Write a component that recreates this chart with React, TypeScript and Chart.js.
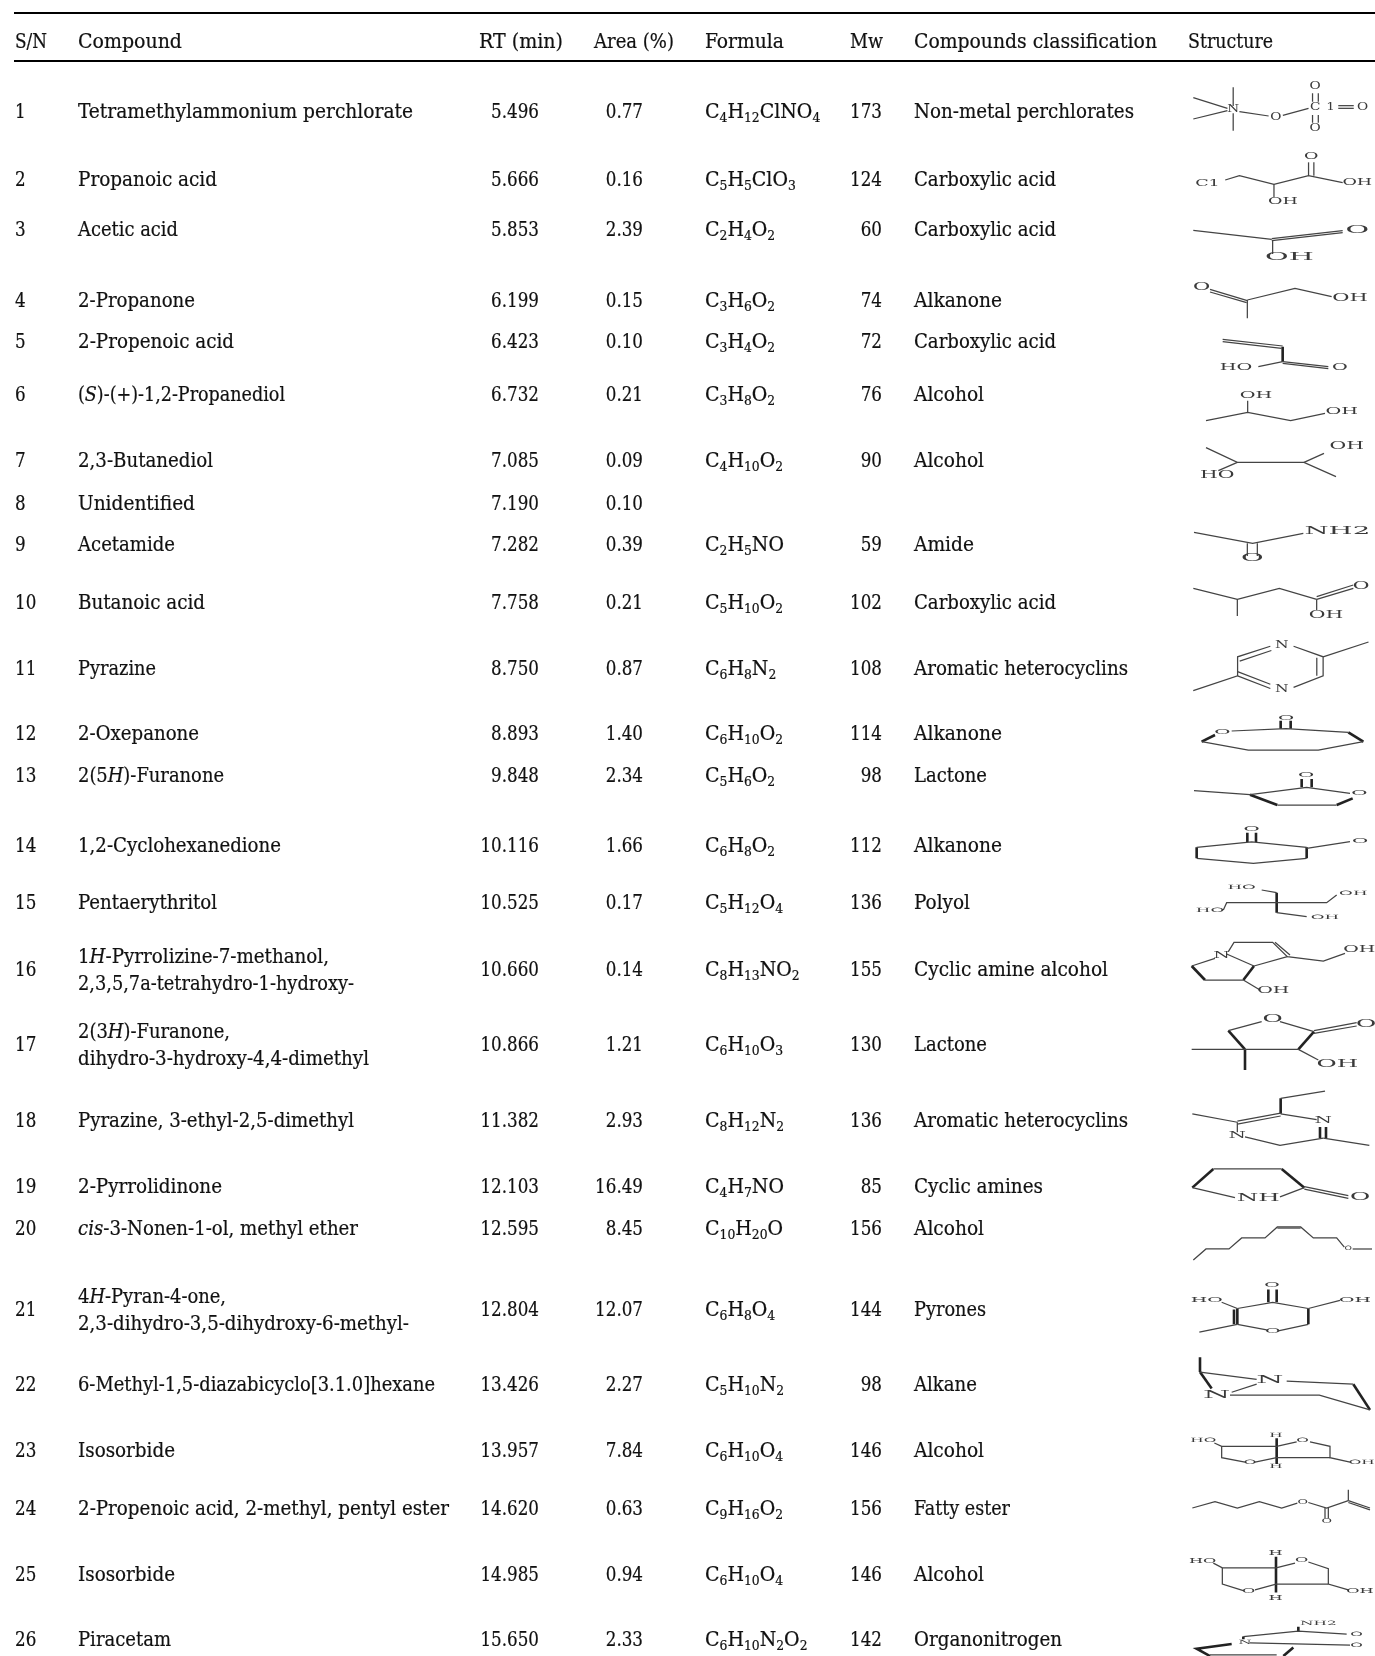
import React, { useEffect, useRef } from "react";
import { Chart, registerables } from "chart.js";
Chart.register(...registerables);

const headers = ["S/N", "Compound", "RT (min)", "Area (%)", "Formula", "Mw", "Compounds classification", "Structure"];
const serials = ["1","2","3","4","5","6","7","8","9","10","11","12","13","14","15","16","17","18","19","20","21","22","23","24","25","26"];
const compounds = [
  ["Tetramethylammonium perchlorate"],["Propanoic acid"],["Acetic acid"],["2-Propanone"],["2-Propenoic acid"],
  ["(*S*)-(+)-1,2-Propanediol"],["2,3-Butanediol"],["Unidentified"],["Acetamide"],["Butanoic acid"],["Pyrazine"],
  ["2-Oxepanone"],["2(5*H*)-Furanone"],["1,2-Cyclohexanedione"],["Pentaerythritol"],
  ["1*H*-Pyrrolizine-7-methanol,","2,3,5,7a-tetrahydro-1-hydroxy-"],
  ["2(3*H*)-Furanone,","dihydro-3-hydroxy-4,4-dimethyl"],
  ["Pyrazine, 3-ethyl-2,5-dimethyl"],["2-Pyrrolidinone"],["*cis*-3-Nonen-1-ol, methyl ether"],
  ["4*H*-Pyran-4-one,","2,3-dihydro-3,5-dihydroxy-6-methyl-"],
  ["6-Methyl-1,5-diazabicyclo[3.1.0]hexane"],["Isosorbide"],["2-Propenoic acid, 2-methyl, pentyl ester"],["Isosorbide"],["Piracetam"],
];
const retention = ["5.496","5.666","5.853","6.199","6.423","6.732","7.085","7.190","7.282","7.758","8.750","8.893","9.848","10.116","10.525","10.660","10.866","11.382","12.103","12.595","12.804","13.426","13.957","14.620","14.985","15.650"];
const areas = ["0.77","0.16","2.39","0.15","0.10","0.21","0.09","0.10","0.39","0.21","0.87","1.40","2.34","1.66","0.17","0.14","1.21","2.93","16.49","8.45","12.07","2.27","7.84","0.63","0.94","2.33"];
const formulas = ["C4H12ClNO4","C5H5ClO3","C2H4O2","C3H6O2","C3H4O2","C3H8O2","C4H10O2","","C2H5NO","C5H10O2","C6H8N2","C6H10O2","C5H6O2","C6H8O2","C5H12O4","C8H13NO2","C6H10O3","C8H12N2","C4H7NO","C10H20O","C6H8O4","C5H10N2","C6H10O4","C9H16O2","C6H10O4","C6H10N2O2"];
const weights = ["173","124","60","74","72","76","90","","59","102","108","114","98","112","136","155","130","136","85","156","144","98","146","156","146","142"];
const classes = ["Non-metal perchlorates","Carboxylic acid","Carboxylic acid","Alkanone","Carboxylic acid","Alcohol","Alcohol","","Amide","Carboxylic acid","Aromatic heterocyclins","Alkanone","Lactone","Alkanone","Polyol","Cyclic amine alcohol","Lactone","Aromatic heterocyclins","Cyclic amines","Alcohol","Pyrones","Alkane","Alcohol","Fatty ester","Alcohol","Organonitrogen"];

// layout on the sheet's axes
const rowBaselines = [118,186,236,307,348,401,467,510,551,609,675,740,782,852,909,976,1051,1127,1193,1235,1316,1391,1457,1515,1581,1646];
const compoundEnds = [[413],[217],[178],[195],[234],[285],[213],[195],[175],[205],[156],[199],[224],[281],[217],[329,354],[230,369],[354],[222],[358],[226,409],[435],[175],[449],[175],[171]];
const classEnds = [1134,1056,1056,1002,1056,984,984,0,974,1056,1128,1002,987,1002,970,1108,987,1128,1043,984,986,977,984,1010,984,1062];
const colLeft = { sn: 15, compound: 78, formula: 705, cls: 914 };
const colRight = { rt: 539, area: 643, mw: 882 };
const headerX = [15, 78, 479, 594, 705, 850, 914, 1188];
const headerEnds = [47, 182, 563, 674, 784, 883, 1157, 1273];
const headerBaseline = 48;
const ruleYs = [13, 61];
const FONT = '"DejaVu Serif Condensed"';
const SIZE = 20;
const SUB = 13;
const DIGIT_SQUEEZE = 0.93;
const FORMULA_WIDEN = 1.055;

type P = number[];
type Mol = { crop: number[]; size: number; wide: number; thin: P[]; thick?: P[]; labels: [string, number, number][] };
const A = [680, 0, 2.256, 3], B = [1160, 280, 3, 3], C = [1160, 680, 3, 3], D = [1160, 1080, 3, 2.722], R = [0, 0, 0.947, 0.947];
const molecules: Mol[] = [
  { crop: A, size: 13, wide: 1.05, thin: [[1158,293,1235,325],[1158,357,1235,332],[1248,262,1248,318],[1248,340,1248,392],[1262,335,1328,348],[1360,346,1418,325],[1485,317,1520,317],[1485,325,1520,325],[1427,280,1427,305],[1440,280,1440,305],[1427,345,1427,368],[1440,345,1440,368]],
    labels: [["N",1248,328],["O",1344,351],["C",1433,320],["1",1468,320],["O",1540,320],["O",1433,257],["O",1433,383]] },
  { crop: A, size: 11, wide: 1.6, thin: [[1230,540,1262,527,1340,553,1418,527,1495,548],[1340,553,1340,592],[1418,527,1418,487],[1430,527,1430,487]],
    labels: [["C1",1190,552],["OH",1528,547],["OH",1360,606],["O",1424,469]] },
  { crop: A, size: 12, wide: 2.4, thin: [[1158,691,1335,718],[1335,716,1495,692],[1335,722,1495,698],[1337,720,1337,762]],
    labels: [["OH",1375,773],["O",1528,691]] },
  { crop: B, size: 14, wide: 1.5, thin: [[150,28,262,62],[150,36,260,68],[262,60,405,25,515,50],[262,60,262,115]],
    labels: [["O",125,22],["OH",570,53]] },
  { crop: B, size: 11, wide: 1.75, thin: [[188,178,368,198],[188,185,365,205],[295,260,368,245],[368,245,505,260],[368,250,505,266]], thick: [[368,200,368,245]],
    labels: [["HO",228,264],["O",540,264]] },
  { crop: B, size: 11, wide: 1.75, thin: [[263,362,263,397],[138,422,263,397,392,422,495,400]],
    labels: [["OH",288,346],["OH",545,395]] },
  { crop: B, size: 12, wide: 1.7, thin: [[138,503,232,547,432,547,528,590],[432,547,492,520],[232,547,175,572]],
    labels: [["OH",560,500],["HO",172,587]] },
  { crop: B, size: 12, wide: 2.3, thin: [[102,757,278,790,430,760],[262,790,262,828],[292,790,292,828]],
    labels: [["NH2",532,755],["O",277,836]] },
  { crop: B, size: 12, wide: 1.7, thin: [[100,925,232,958,358,925,470,958],[232,958,232,1008],[470,950,580,915],[470,958,580,925],[470,958,470,990]],
    labels: [["O",603,920],["OH",498,1005]] },
  { crop: R, size: 13, wide: 1.2, thin: [[1130,654,1172,640,1172,622,1203,612],[1174,626,1204,616],[1225,612,1253,622,1253,640,1225,651],[1203,652,1172,640],[1172,636,1203,648],[1253,622,1296,608],[1247,623,1247,640]],
    labels: [["N",1214,611],["N",1214,653]] },
  { crop: C, size: 9, wide: 2.2, thin: [[215,153,378,146,565,157],[610,185,475,210,265,210,125,185]], thick: [[362,122,362,146],[392,122,392,146],[565,157,610,185],[125,185,165,165]],
    labels: [["O",378,115],["O",187,155]] },
  { crop: C, size: 9, wide: 2.2, thin: [[102,332,270,344,440,322,570,340],[352,375,530,375]], thick: [[425,297,425,322],[455,297,455,322],[270,344,352,375],[530,375,578,355]],
    labels: [["O",438,285],["O",598,340]] },
  { crop: C, size: 9, wide: 2.2, thin: [[110,502,275,486,440,502],[440,535,280,550,110,535],[440,505,570,485]], thick: [[262,458,262,486],[288,458,288,486],[110,502,110,535],[440,502,440,535]],
    labels: [["O",275,448],["O",600,484]] },
  { crop: C, size: 7, wide: 2.4, thin: [[305,630,350,638],[350,698,440,710],[190,690,200,668,500,668,530,645]], thick: [[350,638,350,698]],
    labels: [["HO",245,621],["OH",495,712],["HO",150,692],["OH",580,640]] },
  { crop: C, size: 10, wide: 1.9, thin: [[205,815,222,787,338,787,382,830,490,843,555,820],[200,822,282,858],[345,787,390,825],[382,830,282,858],[250,900,135,900],[95,858,165,835],[250,900,300,930]], thick: [[282,858,250,900],[135,900,95,858]],
    labels: [["N",185,828],["OH",598,810],["OH",340,932]] },
  { crop: C, size: 13, wide: 1.9, thin: [[205,1052,305,1025],[360,1025,462,1055],[415,1108,255,1108],[462,1052,590,1028],[462,1060,590,1038],[95,1108,255,1108],[415,1108,475,1140]], thick: [[255,1108,255,1170],[462,1055,415,1108],[255,1108,205,1052]],
    labels: [["O",338,1018],["O",618,1032],["OH",532,1153]] },
  { crop: D, size: 10, wide: 2.0, thin: [[495,30,362,50],[97,92,232,115],[232,112,362,90],[232,120,362,98],[362,92,470,108],[490,158,628,178],[490,158,360,178,255,155],[232,115,232,142]], thick: [[362,50,362,92],[480,128,480,158],[498,128,498,158]],
    labels: [["N",490,110],["N",232,152]] },
  { crop: D, size: 13, wide: 1.9, thin: [[160,242,365,242],[97,293,225,320],[360,318,433,293],[433,290,565,315],[433,297,565,322]], thick: [[97,293,160,242],[365,242,433,293]],
    labels: [["NH",295,322],["O",600,318]] },
  { crop: D, size: 7, wide: 1.3, thin: [[100,490,138,460,207,460,245,430,315,430,352,400,422,400,460,430,530,430,553,455],[578,460,636,460],[352,403,422,403]],
    labels: [["O",565,458]] },
  { crop: D, size: 9, wide: 2.1, thin: [[232,622,338,605,445,622],[445,665,355,683],[320,680,232,665],[118,686,232,665],[445,622,540,600],[185,605,232,622]], thick: [[325,570,325,605],[350,570,350,605],[232,622,232,665],[222,625,222,665],[445,622,445,665]],
    labels: [["O",336,557],["HO",140,599],["O",338,684],["OH",585,599]] },
  { crop: D, size: 13, wide: 2.4, thin: [[120,795,290,815],[380,820,580,828],[630,898,478,858,210,858],[215,850,290,828]], thick: [[120,755,120,795],[580,828,630,898],[120,795,155,840]],
    labels: [["N",330,817],["N",170,858]] },
  { crop: D, size: 7, wide: 2.2, thin: [[163,988,185,997,350,997,410,985],[450,985,510,997,510,1028,570,1040],[185,997,185,1028,255,1040],[285,1040,350,1028,510,1028]], thick: [[350,975,350,1045]],
    labels: [["HO",130,982],["O",428,982],["OH",605,1040],["O",270,1040],["H",348,968],["H",348,1053]] },
  { crop: D, size: 8, wide: 1.6, thin: [[97,1165,165,1148,232,1165,298,1148,365,1165,412,1152],[445,1150,500,1165,565,1145],[565,1115,565,1145],[565,1145,630,1165],[565,1150,630,1170],[495,1165,495,1193],[505,1165,505,1193]],
    labels: [["O",428,1148],["O",500,1202]] },
  { crop: D, size: 9, wide: 1.8, thin: [[160,1315,187,1328,348,1328,405,1315],[445,1312,505,1330,505,1372,565,1388],[187,1328,187,1372,250,1390],[285,1388,348,1372,505,1372]], thick: [[348,1298,348,1395]],
    labels: [["HO",128,1308],["O",425,1307],["OH",600,1392],["O",266,1392],["H",347,1287],["H",347,1410]] },
  { crop: D, size: 7, wide: 2.2, thin: [[250,1515,415,1500,560,1508],[270,1532,570,1538],[150,1565,350,1565]], thick: [[415,1488,415,1500],[250,1515,250,1522],[215,1535,110,1548,150,1568],[370,1568,400,1545]],
    labels: [["NH2",475,1478],["O",590,1508],["N",255,1530],["O",590,1538]] },
];

const toPts = (crop: number[], p: P) => {
  const out: { x: number; y: number }[] = [];
  for (let i = 0; i < p.length; i += 2) out.push({ x: crop[0] + p[i] / crop[2], y: crop[1] + p[i + 1] / crop[3] });
  return out;
};

const fontOf = (i: number) => `${i % 2 ? "italic " : ""}${SIZE}px ${FONT}`;
function richWidth(ctx: CanvasRenderingContext2D, text: string) {
  let w = 0;
  text.split("*").forEach((t, i) => { ctx.font = fontOf(i); w += ctx.measureText(t).width; });
  return w;
}
function inked(ctx: CanvasRenderingContext2D, t: string, x: number, y: number) {
  ctx.fillText(t, x, y);
  ctx.strokeText(t, x, y);
}
function drawScaled(ctx: CanvasRenderingContext2D, text: string, x: number, y: number, sx: number) {
  ctx.save();
  ctx.translate(x, y);
  ctx.scale(sx, 1);
  ctx.textAlign = "left";
  ctx.textBaseline = "alphabetic";
  let cx = 0;
  text.split("*").forEach((t, i) => { ctx.font = fontOf(i); inked(ctx, t, cx, 0); cx += ctx.measureText(t).width; });
  ctx.restore();
}
function drawFit(ctx: CanvasRenderingContext2D, text: string, x: number, end: number, y: number) {
  if (!text) return;
  drawScaled(ctx, text, x, y, (end - x) / richWidth(ctx, text));
}
function drawNumber(ctx: CanvasRenderingContext2D, text: string, right: number, y: number) {
  if (!text) return;
  drawScaled(ctx, text, right - richWidth(ctx, text) * DIGIT_SQUEEZE, y, DIGIT_SQUEEZE);
}
function drawFormula(ctx: CanvasRenderingContext2D, f: string, x: number, y: number) {
  ctx.save();
  ctx.translate(x, y);
  ctx.scale(FORMULA_WIDEN, 1);
  ctx.textAlign = "left";
  ctx.textBaseline = "alphabetic";
  let cx = 0;
  (f.match(/\d+|\D+/g) || []).forEach((t) => {
    const sub = /\d/.test(t[0]);
    ctx.font = `${sub ? SUB : SIZE}px ${FONT}`;
    inked(ctx, t, cx, sub ? 4 : 0);
    cx += ctx.measureText(t).width;
  });
  ctx.restore();
}

const sheetPlugin = {
  id: "sheet",
  afterDatasetsDraw(chart: any) {
    const { ctx, scales } = chart;
    const X = (v: number) => scales.x.getPixelForValue(v);
    const Y = (v: number) => scales.y.getPixelForValue(v);
    ctx.save();
    ctx.strokeStyle = "#000";
    ctx.lineWidth = 2;
    ruleYs.forEach((r) => { ctx.beginPath(); ctx.moveTo(X(14), Y(r)); ctx.lineTo(X(1375), Y(r)); ctx.stroke(); });
    ctx.fillStyle = "#111";
    ctx.strokeStyle = "#111";
    ctx.lineWidth = 0.2;
    headers.forEach((h, i) => drawFit(ctx, h, X(headerX[i]), X(headerEnds[i]), Y(headerBaseline)));
    serials.forEach((s, i) => {
      const y = Y(rowBaselines[i]);
      drawScaled(ctx, s, X(colLeft.sn), y, DIGIT_SQUEEZE);
      const lines = compounds[i];
      lines.forEach((l, k) => {
        const dy = lines.length === 1 ? 0 : k ? 13.5 : -13.5;
        drawFit(ctx, l, X(colLeft.compound), X(compoundEnds[i][k]), y + dy);
      });
      drawNumber(ctx, retention[i], X(colRight.rt), y);
      drawNumber(ctx, areas[i], X(colRight.area), y);
      drawFormula(ctx, formulas[i], X(colLeft.formula), y);
      drawNumber(ctx, weights[i], X(colRight.mw), y);
      drawFit(ctx, classes[i], X(colLeft.cls), X(classEnds[i]), y);
    });
    ctx.fillStyle = "#3a3a3a";
    ctx.textAlign = "center";
    ctx.textBaseline = "middle";
    molecules.forEach((m) => {
      ctx.font = `${m.size}px "DejaVu Serif"`;
      m.labels.forEach(([t, lx, ly]) => {
        ctx.save();
        ctx.translate(X(m.crop[0] + lx / m.crop[2]), Y(m.crop[1] + ly / m.crop[3]));
        ctx.scale(m.wide, 0.85);
        ctx.fillText(t, 0, 0);
        ctx.restore();
      });
    });
    ctx.restore();
  },
};

export default function App() {
  const ref = useRef<HTMLCanvasElement>(null);
  useEffect(() => {
    const datasets: any[] = [];
    molecules.forEach((m) => {
      m.thin.forEach((p) => datasets.push({ data: toPts(m.crop, p), showLine: true, borderColor: "#444", borderWidth: 1.25, pointRadius: 0, tension: 0 }));
      (m.thick || []).forEach((p) => datasets.push({ data: toPts(m.crop, p), showLine: true, borderColor: "#222", borderWidth: 2.6, pointRadius: 0, tension: 0 }));
    });
    const chart = new Chart(ref.current!, {
      type: "scatter",
      data: { datasets },
      plugins: [sheetPlugin],
      options: {
        animation: false,
        responsive: false,
        devicePixelRatio: 1,
        layout: { padding: 0 },
        plugins: { legend: { display: false }, tooltip: { enabled: false }, title: { display: false } },
        scales: {
          x: { type: "linear", min: 0, max: 1375, display: false },
          y: { type: "linear", min: 0, max: 1656, reverse: true, display: false },
        },
      },
    } as any);
    return () => chart.destroy();
  }, []);
  return (
    <canvas
      ref={ref}
      width={1375}
      height={1656}
      style={{ position: "absolute", left: 0, top: 0, width: 1375, height: 1656, filter: "blur(0.35px)" }}
    />
  );
}
